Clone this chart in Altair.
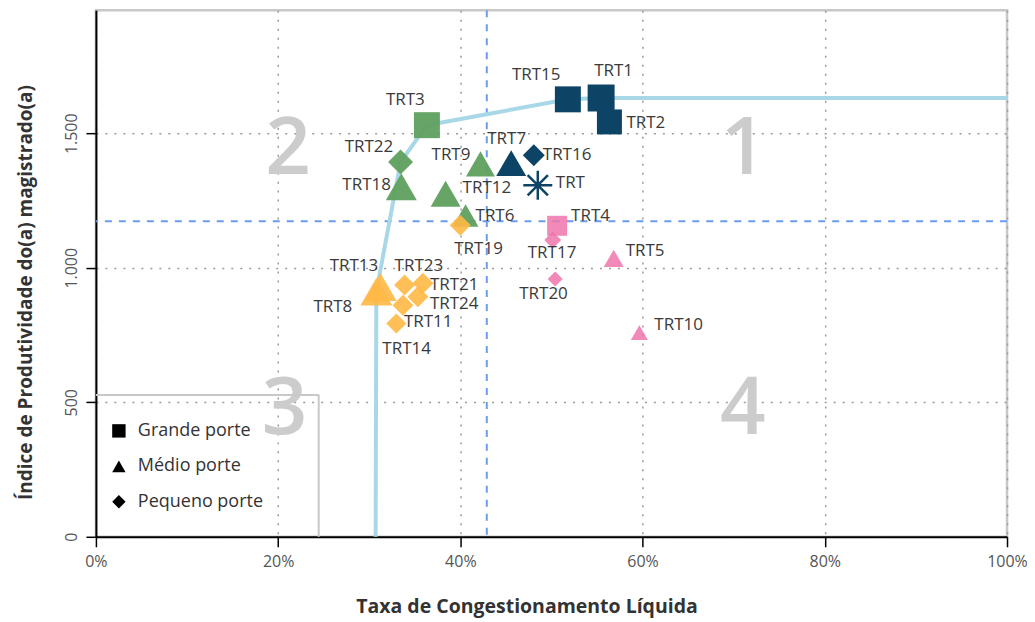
import altair as alt
import pandas as pd

# ---------------- data ----------------
nomes = ["TRT15", "TRT1", "TRT2", "TRT3", "TRT4", "TRT22", "TRT18", "TRT9", "TRT7",
         "TRT16", "TRT12", "TRT6", "TRT19", "TRT17", "TRT5", "TRT20", "TRT10",
         "TRT13", "TRT8", "TRT23", "TRT21", "TRT24", "TRT11", "TRT14"]
taxa = [0.518, 0.5545, 0.5636, 0.3633, 0.5062, 0.3344, 0.3352, 0.4221, 0.4558,
        0.4806, 0.3838, 0.4057, 0.3999, 0.5014, 0.5683, 0.5041, 0.5965,
        0.3125, 0.3078, 0.3388, 0.3589, 0.3534, 0.3370, 0.3297]
ipm = [1626, 1631, 1542, 1530, 1156, 1393, 1301, 1386, 1389,
       1418, 1275, 1194, 1158, 1103, 1035, 958, 759,
       928, 911, 936, 942, 892, 861, 793]
porte = ["Grande porte", "Grande porte", "Grande porte", "Grande porte", "Grande porte",
         "Pequeno porte", "Médio porte", "Médio porte", "Médio porte",
         "Pequeno porte", "Médio porte", "Médio porte", "Pequeno porte", "Pequeno porte",
         "Médio porte", "Pequeno porte", "Médio porte",
         "Médio porte", "Médio porte", "Pequeno porte", "Pequeno porte", "Pequeno porte",
         "Pequeno porte", "Pequeno porte"]
quadrante = ["1", "1", "1", "2", "4", "2", "2", "2", "1",
             "1", "2", "2", "3", "4", "4", "4", "4",
             "3", "3", "3", "3", "3", "3", "3"]
lado_px = [26, 27, 25, 26, 20, 25, 31, 29, 30,
           22, 30, 26, 21, 17, 20, 15, 17,
           32, 32, 21, 21, 21, 21, 20]

# overall ("TRT") point
total_nome = ["TRT"]
total_taxa = [0.485]
total_ipm = [1307]

# reference lines (averages)
media_taxa = [0.429]
media_ipm = [1173]

# efficiency frontier
fronteira_taxa = [0.307, 0.3078, 0.3344, 0.3633, 0.518, 0.5545, 1.0]
fronteira_ipm = [0, 911, 1393, 1530, 1626, 1631, 1631]

# quadrant numbers
quad_txt = ["1", "2", "3", "4"]
quad_taxa = [0.711, 0.211, 0.207, 0.710]
quad_ipm = [1455, 1455, 490, 490]

# label offsets (layout, pixels)
rotulo_desloc = {
    "TRT15": (-56, -24), "TRT1": (-7, -27), "TRT2": (17, 1), "TRT3": (-41, -25),
    "TRT22": (-56, -15), "TRT18": (-59, -2), "TRT9": (-49, -9), "TRT7": (-24, -24),
    "TRT16": (9, 0), "TRT12": (17, -6), "TRT": (18, -2), "TRT6": (10, 0),
    "TRT4": (14, -10), "TRT19": (-6, 24), "TRT17": (-25, 13), "TRT5": (12, -7),
    "TRT20": (-36, 15), "TRT10": (15, -8), "TRT13": (-51, -21), "TRT8": (-63, 15),
    "TRT23": (-10, -19), "TRT21": (7, 2), "TRT24": (12, 7), "TRT11": (1, 17),
    "TRT14": (-14, 26),
}

FONT = "Open Sans"
NAVY = "#0d4466"

df = pd.DataFrame({"nome": nomes, "taxa": taxa, "ipm": ipm, "porte": porte,
                   "quad": quadrante, "lado": lado_px})
df_tot = pd.DataFrame({"nome": total_nome, "taxa": total_taxa, "ipm": total_ipm})
df_lab = pd.concat([df[["nome", "taxa", "ipm"]], df_tot], ignore_index=True)
df_front = pd.DataFrame({"taxa": fronteira_taxa, "ipm": fronteira_ipm,
                         "ordem": list(range(len(fronteira_taxa)))})
df_quad = pd.DataFrame({"t": quad_txt, "taxa": quad_taxa, "ipm": quad_ipm})

xs = alt.Scale(domain=[0, 1], nice=False, zero=False)
ys = alt.Scale(domain=[0, 1957], nice=False)

x_axis = alt.Axis(values=[0, 0.2, 0.4, 0.6, 0.8, 1.0], format=".0%",
                  title="Taxa de Congestionamento Líquida",
                  grid=True, gridDash=[2, 7], gridColor="#9a9a9a", gridWidth=1.5,
                  domainColor="black", domainWidth=2, tickColor="black", tickWidth=1.5,
                  tickSize=10, labelFontSize=16, labelColor="#555555", labelPadding=7,
                  labelFlush=False,
                  labelFont=FONT, titleFont=FONT, titleFontSize=19.5, titleFontWeight="bold",
                  titleColor="#333333", titlePadding=28, titleX=431, titleAlign="center")
y_axis = alt.Axis(values=[0, 500, 1000, 1500],
                  labelExpr="replace(format(datum.value, ','), ',', '.')",
                  title="Índice de Produtividade do(a) magistrado(a)",
                  grid=True, gridDash=[2, 7], gridColor="#9a9a9a", gridWidth=1.5,
                  domainColor="black", domainWidth=2, tickColor="black", tickWidth=1.5,
                  tickSize=10, labelFontSize=16, labelColor="#555555", labelPadding=6,
                  labelFlush=False,
                  labelAngle=270, labelFont=FONT, titleFont=FONT, titleFontSize=19,
                  titleFontWeight="bold", titleColor="#333333", titlePadding=28,
                  titleY=282, titleAlign="center")

X = lambda: alt.X("taxa:Q", scale=xs, axis=x_axis)
Y = lambda: alt.Y("ipm:Q", scale=ys, axis=y_axis)

quads = alt.Chart(df_quad).mark_text(font=FONT, fontSize=80, fontWeight=600,
                                     color="#cccccc", baseline="middle", dy=5).encode(
    x=X(), y=Y(), text="t:N")

vline = alt.Chart(pd.DataFrame({"taxa": media_taxa})).mark_rule(
    color="#6b9cf0", strokeWidth=2, strokeDash=[7, 7]).encode(x=X())
hline = alt.Chart(pd.DataFrame({"ipm": media_ipm})).mark_rule(
    color="#6b9cf0", strokeWidth=2, strokeDash=[7, 7]).encode(y=Y())

box_top = alt.Chart(pd.DataFrame({"a": [0]})).mark_rule(
    color="#c8c8c8", strokeWidth=2).encode(
    x=alt.value(0), x2=alt.value(223), y=alt.value(385))
box_right = alt.Chart(pd.DataFrame({"a": [0]})).mark_rule(
    color="#c8c8c8", strokeWidth=2).encode(
    x=alt.value(223), y=alt.value(385), y2=alt.value(527))

front = alt.Chart(df_front).mark_line(color="#a8d8e8", strokeWidth=4).encode(
    x=X(), y=Y(), order="ordem:Q")

pts = alt.Chart(df).transform_calculate(area="datum.lado * datum.lado").mark_point(
    filled=True, strokeWidth=0).encode(
    x=X(), y=Y(),
    shape=alt.Shape("porte:N",
                    scale=alt.Scale(domain=["Grande porte", "Médio porte", "Pequeno porte"],
                                    range=["square", "triangle-up", "diamond"]),
                    legend=alt.Legend(title=None, orient="none", legendX=14, legendY=412,
                                      labelFontSize=18, labelColor="#333333", labelFont=FONT,
                                      symbolFillColor="black", symbolStrokeColor="black",
                                      symbolStrokeWidth=0, symbolSize=180, symbolOpacity=1,
                                      rowPadding=17.5, labelOffset=10)),
    color=alt.Color("quad:N", scale=alt.Scale(domain=["1", "2", "3", "4"],
                                              range=[NAVY, "#5fa05f", "#ffb845", "#ef74ad"]),
                    legend=None),
    opacity=alt.Opacity("quad:N", scale=alt.Scale(domain=["1", "2", "3", "4"],
                                                  range=[1, 0.85, 0.75, 0.78]),
                        legend=None),
    size=alt.Size("area:Q", scale=None),
)

ast = alt.Chart(df_tot).mark_point(
    shape="M0,-1L0,1M-1,0L1,0M-0.7,-0.7L0.7,0.7M-0.7,0.7L0.7,-0.7",
    filled=False, color=NAVY, strokeWidth=2.5, size=841, opacity=1).encode(x=X(), y=Y())

labels = []
for n in df_lab["nome"]:
    dx, dy = rotulo_desloc[n]
    labels.append(alt.Chart(df_lab).transform_filter(alt.datum.nome == n).mark_text(
        font=FONT, fontSize=17, color="#3a3a3a", align="left", baseline="middle",
        dx=dx, dy=dy).encode(x=X(), y=Y(), text="nome:N"))

chart = alt.layer(quads, vline, hline, box_top, box_right, front, pts, ast, *labels).properties(
    width=912, height=527,
    autosize=alt.AutoSizeParams(type="none"),
    padding={"left": 88, "top": 2, "right": 20, "bottom": 86},
).configure_view(stroke="#c8c8c8", strokeWidth=2.5)

chart.save("out.html", embed_options={"renderer": "svg", "actions": False})
